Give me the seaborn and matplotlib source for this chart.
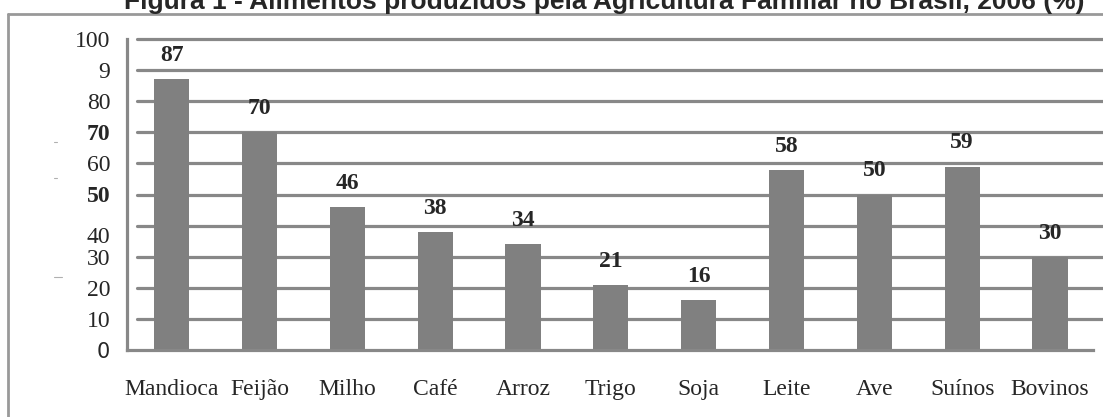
import matplotlib
matplotlib.use('Agg')
import matplotlib.pyplot as plt
import matplotlib.transforms as mtransforms
from matplotlib.lines import Line2D
import seaborn as sns
import pandas as pd

# Dados: alimentos produzidos pela agricultura familiar (%)
produtos = ['Mandioca', 'Feijão', 'Milho', 'Café', 'Arroz', 'Trigo',
            'Soja', 'Leite', 'Ave', 'Suínos', 'Bovinos']
percentual = [87, 70, 46, 38, 34, 21, 16, 58, 50, 59, 30]
y_ticks = [0, 10, 20, 30, 40, 50, 60, 70, 80, 90, 100]
y_labels = ['0', '10', '20', '30', '40', '50', '60', '70', '80', '9', '100']
titulo = 'Figura 1 - Alimentos produzidos pela Agricultura Familiar no Brasil, 2006 (%)'

df = pd.DataFrame({'Produto': produtos, 'Percentual': percentual})

sns.set_style('white')
plt.rcParams['font.family'] = ['Liberation Serif', 'DejaVu Serif']

W, H = 1103, 417
fig = plt.figure(figsize=(W / 100, H / 100), dpi=100)
ax = fig.add_axes([127 / W, 1 - 350 / H, (1093 - 127) / W, (350 - 39) / H])

cinza = '#888888'

# grade horizontal atrás das barras
for y in y_ticks[1:]:
    ax.axhline(y, xmin=10 / 966, xmax=1.012, color=cinza, lw=2.3,
               zorder=0, clip_on=False)

sns.barplot(data=df, x='Produto', y='Percentual', color='#808080',
            saturation=1, width=0.4, linewidth=0, ax=ax, zorder=2)

for i, v in enumerate(percentual):
    ax.annotate(str(v), (i, v), xytext=(0, 13), textcoords='offset points',
                ha='center', va='baseline', fontsize=17, fontweight='bold')

ax.set_xlim(-0.51, 10.49)
ax.set_ylim(0, 100)
ax.set_xlabel('')
ax.set_ylabel('')

ax.set_yticks(y_ticks)
ax.set_yticklabels(y_labels)
ax.tick_params(axis='y', length=0, pad=12, labelsize=17)
ax.tick_params(axis='x', length=0, pad=21, labelsize=17)

for lab in ax.get_yticklabels():
    if lab.get_text() in ('70', '50'):
        lab.set_fontweight('bold')
    if lab.get_text() == '0':
        lab.set_family('DejaVu Sans')
        lab.set_fontsize(15)
    if lab.get_text() == '40':
        lab.set_transform(lab.get_transform() +
                          mtransforms.ScaledTranslation(0, -7 / 72, fig.dpi_scale_trans))

for s in ['top', 'right']:
    ax.spines[s].set_visible(False)
for s in ['left', 'bottom']:
    ax.spines[s].set_color(cinza)
    ax.spines[s].set_linewidth(2.3)

# moldura externa
fig.add_artist(Line2D([8 / W, 8 / W], [0, 1 - 14 / H], color='#999999', lw=2))
fig.add_artist(Line2D([8 / W, 1], [1 - 14 / H, 1 - 14 / H], color='#999999', lw=2))

# pequenos traços à esquerda
for yy, ww in [(142, 3), (178, 3), (277, 8)]:
    fig.add_artist(Line2D([54 / W, (54 + ww) / W], [1 - yy / H, 1 - yy / H],
                          color='#b0b0b0', lw=0.8))

fig.text(604 / W, 1 - 9 / H, titulo, ha='center', va='baseline',
         fontsize=19, fontweight='bold', family='Liberation Sans')

fig.savefig('out.png', dpi=100)
